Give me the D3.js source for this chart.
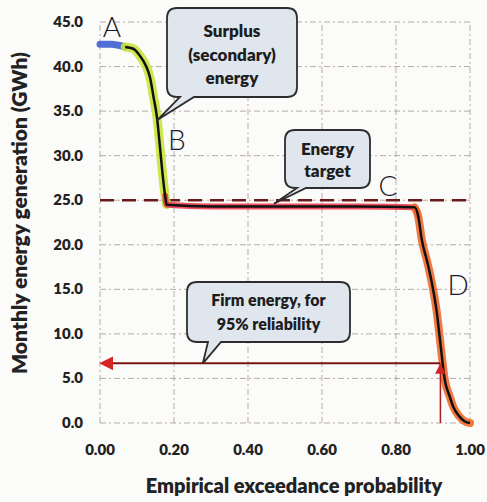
<!DOCTYPE html>
<html>
<head>
<meta charset="utf-8">
<script src="https://cdn.jsdelivr.net/npm/d3@7"></script>
<style>
  body { margin: 0; background: #fbfbfa; }
  svg text { font-family: Lato, "Open Sans", sans-serif; }
</style>
</head>
<body>
<div id="chart"></div>
<script>
// flow-duration style curve: exceedance probability vs monthly generation
const exceedance = [0, 0.03, 0.068, 0.09, 0.108, 0.125, 0.135, 0.145, 0.154, 0.162, 0.17, 0.176, 0.18,
                    0.3, 0.5, 0.7, 0.85, 0.86, 0.87, 0.885, 0.897, 0.91, 0.919, 0.932, 0.945, 0.955, 0.97, 0.985, 1.0];
const generation = [42.5, 42.5, 42.2, 42.0, 41.2, 40.0, 38.8, 36.5, 34.3, 31.0, 27.6, 25.5, 24.5,
                    24.3, 24.3, 24.3, 24.2, 23.2, 20.5, 18.0, 15.7, 12.5, 9.3, 4.8, 3.0, 1.8, 0.8, 0.2, 0];

const yTicks = [0, 5, 10, 15, 20, 25, 30, 35, 40, 45];
const xTicks = [0, 0.2, 0.4, 0.6, 0.8, 1.0];

const energyTarget = 25.0;
const firmEnergy = 6.7;
const firmProb = 0.92;

// highlighter segments drawn over the curve (probability ranges)
const highlightRanges = [
    {from: 0, to: 0.068, color: '#3e5fd0', width: 7},
    {from: 0.068, to: 0.18, color: '#c9e43a', width: 9},
    {from: 0.176, to: 0.86, color: '#ec3b4c', width: 6},
    {from: 0.85, to: 1.0, color: '#f0692a', width: 8}
];

let width = 487, height = 502;
let svg = d3.select("#chart").append("svg")
    .attr("width", width)
    .attr("height", height);

let x = d3.scaleLinear().domain([0, 1]).range([100, 470]);
let y = d3.scaleLinear().domain([0, 45]).range([423, 22]);

let points = exceedance.map((p, i) => ({p: p, g: generation[i]}));

// gridlines
svg.append("g").selectAll("line.h")
    .data(yTicks).enter().append("line")
    .attr("x1", x(0)).attr("x2", x(1))
    .attr("y1", d => y(d)).attr("y2", d => y(d))
    .attr("stroke", "#b9a9ab").attr("stroke-width", 1)
    .attr("stroke-dasharray", "6,3,2,3");

svg.append("g").selectAll("line.v")
    .data(xTicks).enter().append("line")
    .attr("x1", d => x(d)).attr("x2", d => x(d))
    .attr("y1", y(0)).attr("y2", y(45))
    .attr("stroke", "#b9a9ab").attr("stroke-width", 1)
    .attr("stroke-dasharray", "6,3,2,3");

// tick labels
svg.append("g").selectAll("text")
    .data(yTicks).enter().append("text")
    .attr("x", 83).attr("y", d => y(d) + 5)
    .attr("text-anchor", "end")
    .attr("font-size", 15).attr("font-weight", 800).attr("fill", "#222")
    .text(d => d.toFixed(1));

svg.append("g").selectAll("text")
    .data(xTicks).enter().append("text")
    .attr("x", d => x(d)).attr("y", 455)
    .attr("text-anchor", "middle")
    .attr("font-size", 15).attr("font-weight", 800).attr("fill", "#222")
    .text(d => d.toFixed(2));

// axis titles
svg.append("text")
    .attr("transform", "translate(27,213) rotate(-90)")
    .attr("text-anchor", "middle")
    .attr("font-size", 21).attr("font-weight", 800).attr("fill", "#222")
    .text("Monthly energy generation (GWh)");

svg.append("text")
    .attr("x", 294).attr("y", 493)
    .attr("text-anchor", "middle")
    .attr("font-size", 20).attr("font-weight", 800).attr("fill", "#222")
    .text("Empirical exceedance probability");

// energy target dashed line
svg.append("line")
    .attr("x1", x(0)).attr("x2", x(1))
    .attr("y1", y(energyTarget)).attr("y2", y(energyTarget))
    .attr("stroke", "#6b1a1a").attr("stroke-width", 2.5)
    .attr("stroke-dasharray", "14,8");

let line = d3.line().x(d => x(d.p)).y(d => y(d.g)).curve(d3.curveMonotoneX);

// highlighter marks
highlightRanges.forEach(h => {
    svg.append("path")
        .datum(points.filter(d => d.p >= h.from && d.p <= h.to))
        .attr("d", line)
        .attr("fill", "none")
        .attr("stroke", h.color)
        .attr("stroke-width", h.width)
        .attr("stroke-linecap", "round")
        .attr("stroke-linejoin", "round")
        .attr("opacity", 0.9);
});

// curve
svg.append("path")
    .datum(points.filter(d => d.p >= 0.068))
    .attr("d", line)
    .attr("fill", "none")
    .attr("stroke", "#111")
    .attr("stroke-width", 2.5)
    .attr("stroke-linejoin", "round");

// firm energy arrows
svg.append("defs").append("marker")
    .attr("id", "arrow")
    .attr("viewBox", "0 0 10 10")
    .attr("refX", 8).attr("refY", 5)
    .attr("markerWidth", 7).attr("markerHeight", 7)
    .attr("orient", "auto-start-reverse")
    .append("path")
    .attr("d", "M0,0 L10,5 L0,10 z")
    .attr("fill", "#d42424");

svg.append("line")
    .attr("x1", x(firmProb)).attr("x2", x(0) + 2)
    .attr("y1", y(firmEnergy)).attr("y2", y(firmEnergy))
    .attr("stroke", "#7a1414").attr("stroke-width", 2)
    .attr("marker-end", "url(#arrow)");

svg.append("line")
    .attr("x1", x(firmProb)).attr("x2", x(firmProb))
    .attr("y1", y(0)).attr("y2", y(firmEnergy) + 2)
    .attr("stroke", "#b01c1c").attr("stroke-width", 1.5)
    .attr("marker-end", "url(#arrow)");

// callout boxes (rounded rect with a tail on the bottom edge)
function callout(bx, by, w, h, r, t1, t2, tipX, tipY) {
    let p = d3.path();
    p.moveTo(bx + r, by);
    p.lineTo(bx + w - r, by);
    p.quadraticCurveTo(bx + w, by, bx + w, by + r);
    p.lineTo(bx + w, by + h - r);
    p.quadraticCurveTo(bx + w, by + h, bx + w - r, by + h);
    p.lineTo(t2, by + h);
    p.lineTo(tipX, tipY);
    p.lineTo(t1, by + h);
    p.lineTo(bx + r, by + h);
    p.quadraticCurveTo(bx, by + h, bx, by + h - r);
    p.lineTo(bx, by + r);
    p.quadraticCurveTo(bx, by, bx + r, by);
    p.closePath();
    return p.toString();
}

let callouts = [
    {box: [167, 8, 130, 89], tail: [180, 194], tip: [0.155, 34.0], size: 17,
     lines: ["Surplus", "(secondary)", "energy"], ly: [37, 61, 84]},
    {box: [285, 130, 85, 58], tail: [297, 306], tip: [0.47, 24.6], size: 17,
     lines: ["Energy", "target"], ly: [155, 177]},
    {box: [187, 282, 163, 60], tail: [208, 221], tip: [0.278, firmEnergy], size: 16,
     lines: ["Firm energy, for", "95% reliability"], ly: [306, 330]}
];

callouts.forEach(c => {
    let [bx, by, w, h] = c.box;
    svg.append("path")
        .attr("d", callout(bx, by, w, h, 10, c.tail[0], c.tail[1], x(c.tip[0]), y(c.tip[1])))
        .attr("fill", "#dfe6ee")
        .attr("stroke", "#2d2d2d")
        .attr("stroke-width", 1.8);
    c.lines.forEach((t, i) => {
        svg.append("text")
            .attr("x", bx + w / 2).attr("y", c.ly[i])
            .attr("text-anchor", "middle")
            .attr("font-size", c.size).attr("font-weight", 800).attr("fill", "#1d1d1d")
            .text(t);
    });
});

// handwritten point letters
let letters = [
    {t: "A", p: 0.032, g: 43.3},
    {t: "B", p: 0.208, g: 30.6},
    {t: "C", p: 0.778, g: 25.5},
    {t: "D", p: 0.968, g: 14.4}
];
svg.append("g").selectAll("text")
    .data(letters).enter().append("text")
    .attr("x", d => x(d.p)).attr("y", d => y(d.g))
    .attr("text-anchor", "middle")
    .attr("font-family", "DejaVu Sans, sans-serif")
    .attr("font-size", 28).attr("font-weight", 300)
    .attr("fill", "#1a1a2a")
    .text(d => d.t);
</script>
</body>
</html>
